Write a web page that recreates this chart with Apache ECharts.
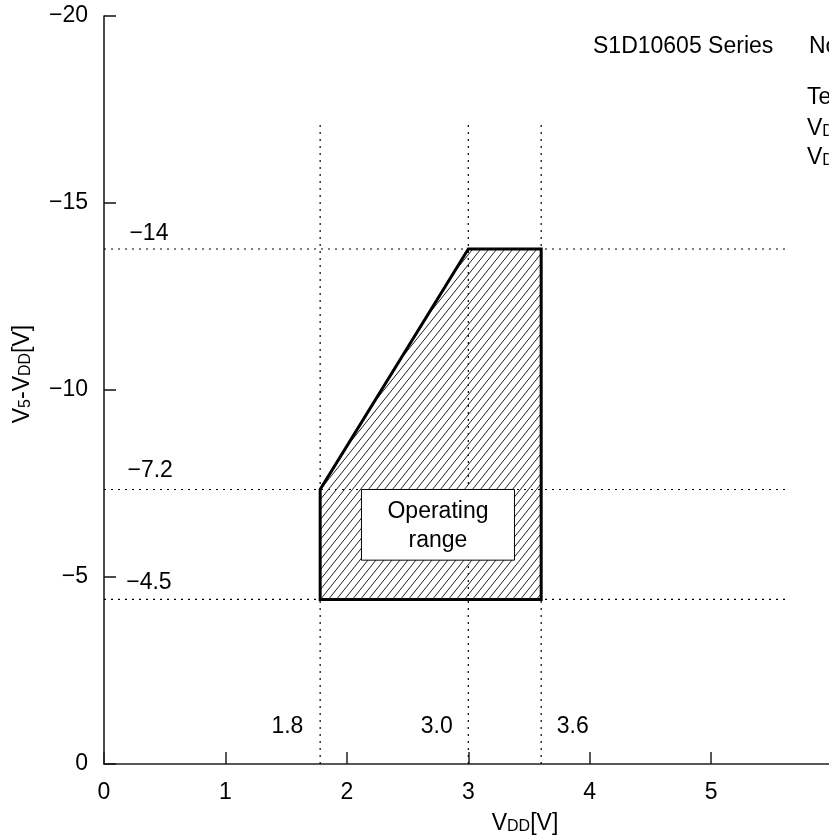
<!DOCTYPE html>
<html>
<head>
<meta charset="utf-8">
<script src="https://cdn.jsdelivr.net/npm/echarts@6/dist/echarts.min.js"></script>
<style>
  html, body { margin: 0; padding: 0; background: #fff; }
  #chart { width: 829px; height: 836px; }
</style>
</head>
<body>
<div id="chart"></div>
<script>
// axis ticks
const X_TICKS = [0, 1, 2, 3, 4, 5]
const Y_TICKS = [-20, -15, -10, -5, 0]
const X_MAX = 5.97 // axis is cut by the right edge of the picture

// dotted guide lines (VDD verticals, V5-VDD horizontals)
const VDD_MARKS = [1.78, 3.0, 3.6]
const VDD_LABELS = ['1.8', '3.0', '3.6']
const VDD_LABEL_X = [1.51, 2.74, 3.86]
const VDD_LABEL_Y = [-0.99, -0.99, -0.99]
const V5_MARKS = [-13.77, -7.34, -4.40]
const V5_LABELS = ['\u221214', '\u22127.2', '\u22124.5']
const V5_LABEL_X = [0.37, 0.38, 0.37]
const V5_LABEL_Y = [-14.17, -7.84, -4.84]
const VLINE_TOP = -17.1
const HLINE_END = 5.61

// operating range polygon
const REGION_VDD = [1.78, 1.78, 3.0, 3.6, 3.6]
const REGION_V5 = [-4.40, -7.34, -13.77, -13.77, -4.40]

// label box inside region
const BOX_VDD = [2.12, 3.38]
const BOX_V5 = [-7.34, -5.45]
const BOX_TEXT = 'Operating\nrange'

const FONT = 'Liberation Sans, Arial, sans-serif'
const FS = 23

// hatch pattern ///
function makeHatch() {
  const w = 8, h = 10
  const c = document.createElement('canvas')
  c.width = w; c.height = h
  const ctx = c.getContext('2d')
  ctx.strokeStyle = '#222'
  ctx.lineWidth = 1
  for (let k = -1; k <= 1; k++) {
    ctx.beginPath()
    ctx.moveTo(k * w, h)
    ctx.lineTo(k * w + w, 0)
    ctx.stroke()
  }
  return c
}
const hatch = { image: makeHatch(), repeat: 'repeat' }

const dotted = { color: '#000', width: 1.2, type: [2, 5] }
const minus = v => String(v).replace('-', '\u2212')

const richSub = {
  n: { fontSize: FS, fontFamily: FONT, color: '#000', verticalAlign: 'bottom', lineHeight: 26 },
  s: { fontSize: 16, fontFamily: FONT, color: '#000', verticalAlign: 'bottom', lineHeight: 26 },
}

const chart = echarts.init(document.getElementById('chart'))

const guideSeries = [
  ...VDD_MARKS.map(x => ({
    type: 'line', silent: true, symbol: 'none', z: 1,
    data: [[x, 0], [x, VLINE_TOP]],
    lineStyle: dotted,
  })),
  ...V5_MARKS.map(y => ({
    type: 'line', silent: true, symbol: 'none', z: 1,
    data: [[0, y], [HLINE_END, y]],
    lineStyle: dotted,
  })),
]

const labelData = [
  ...VDD_LABELS.map((t, i) => [VDD_LABEL_X[i], VDD_LABEL_Y[i], t]),
  ...V5_LABELS.map((t, i) => [V5_LABEL_X[i], V5_LABEL_Y[i], t]),
]

chart.setOption({
  animation: false,
  grid: { left: 104, top: 16, right: 0, bottom: 72, containLabel: false },
  xAxis: {
    type: 'value', min: 0, max: X_MAX, interval: 1,
    axisLine: { onZero: false, lineStyle: { color: '#222', width: 1.5 } },
    axisTick: { inside: true, length: 12, customValues: X_TICKS, lineStyle: { color: '#222', width: 1.5 } },
    axisLabel: {
      margin: 17, color: '#000', fontSize: FS, fontFamily: FONT,
      customValues: X_TICKS,
      formatter: v => (X_TICKS.includes(v) ? String(v) : ''),
    },
    splitLine: { show: false },
  },
  yAxis: {
    type: 'value', min: -20, max: 0, interval: 5, inverse: true,
    axisLine: { show: true, onZero: false, lineStyle: { color: '#111', width: 1.5 } },
    axisTick: { show: true, inside: true, length: 12, lineStyle: { color: '#111', width: 1.5 } },
    axisLabel: {
      margin: 16, color: '#000', fontSize: FS, fontFamily: FONT,
      formatter: v => (Y_TICKS.includes(v) ? minus(v) : ''),
    },
    splitLine: { show: false },
  },
  graphic: [
    {
      type: 'text', x: 21, y: 374, rotation: Math.PI / 2,
      style: {
        text: '{n|V}{s|5}{n|-V}{s|DD}{n|[V]}',
        textAlign: 'center', textVerticalAlign: 'middle', rich: richSub,
      },
    },
    {
      type: 'text', x: 525, y: 822,
      style: {
        text: '{n|V}{s|DD}{n|[V]}',
        textAlign: 'center', textVerticalAlign: 'middle', rich: richSub,
      },
    },
    {
      type: 'text', x: 593, y: 47,
      style: { text: 'S1D10605 Series', font: `${FS}px ${FONT}`, fill: '#000', textVerticalAlign: 'middle' },
    },
    {
      type: 'text', x: 809, y: 47,
      style: { text: 'Normal mode', font: `${FS}px ${FONT}`, fill: '#000', textVerticalAlign: 'middle' },
    },
    {
      type: 'text', x: 807, y: 98,
      style: { text: 'Temperature = 25\u00b0C', font: `${FS}px ${FONT}`, fill: '#000', textVerticalAlign: 'middle' },
    },
    {
      type: 'text', x: 807, y: 127,
      style: { text: '{n|V}{s|DD}{n| = 3.0 V}', textVerticalAlign: 'middle', rich: richSub },
    },
    {
      type: 'text', x: 807, y: 156,
      style: { text: '{n|V}{s|DD}{n| = 3.6 V}', textVerticalAlign: 'middle', rich: richSub },
    },
  ],
  series: [
    ...guideSeries,
    {
      type: 'custom', silent: true, z: 2,
      data: REGION_VDD.map((x, i) => [x, REGION_V5[i]]),
      renderItem(params, api) {
        if (params.dataIndex !== 0) return null
        const pts = REGION_VDD.map((x, i) => api.coord([x, REGION_V5[i]]))
        return {
          type: 'polygon',
          shape: { points: pts },
          style: { fill: hatch, stroke: '#000', lineWidth: 3, lineJoin: 'miter' },
        }
      },
    },
    {
      type: 'custom', silent: true, z: 3,
      data: [[BOX_VDD[0], BOX_V5[0], BOX_VDD[1], BOX_V5[1]]],
      renderItem(params, api) {
        const p1 = api.coord([api.value(0), api.value(1)])
        const p2 = api.coord([api.value(2), api.value(3)])
        return {
          type: 'group',
          children: [
            {
              type: 'rect',
              shape: { x: p1[0], y: p1[1], width: p2[0] - p1[0], height: p2[1] - p1[1] },
              style: { fill: '#fff', stroke: '#000', lineWidth: 1 },
            },
            {
              type: 'text',
              x: (p1[0] + p2[0]) / 2, y: (p1[1] + p2[1]) / 2 + 1,
              style: {
                text: BOX_TEXT, fontSize: FS, fontFamily: FONT, fill: '#000',
                textAlign: 'center', textVerticalAlign: 'middle', lineHeight: 29,
              },
            },
          ],
        }
      },
    },
    {
      type: 'scatter', silent: true, z: 4,
      symbolSize: 0,
      itemStyle: { opacity: 1 },
      data: labelData,
      label: {
        show: true, position: 'inside', color: '#000', opacity: 1,
        fontSize: FS, fontFamily: FONT,
        formatter: p => p.data[2],
      },
    },
  ],
})
</script>
</body>
</html>
